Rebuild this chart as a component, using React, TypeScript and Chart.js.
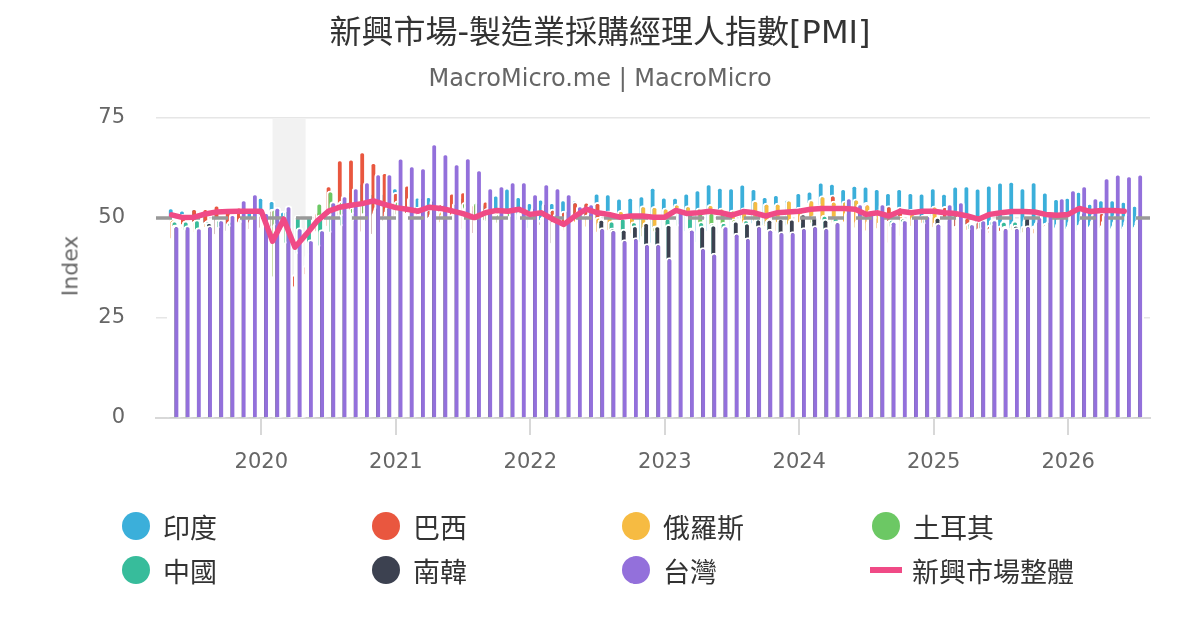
import { useEffect, useRef } from 'react';
import { Chart, registerables } from 'chart.js';

Chart.register(...registerables);

// monthly categories, May 2019 - Jul 2026
const months = [
  '2019-05', '2019-06', '2019-07', '2019-08', '2019-09', '2019-10', '2019-11', '2019-12',
  '2020-01', '2020-02', '2020-03', '2020-04', '2020-05', '2020-06', '2020-07', '2020-08', '2020-09', '2020-10', '2020-11', '2020-12',
  '2021-01', '2021-02', '2021-03', '2021-04', '2021-05', '2021-06', '2021-07', '2021-08', '2021-09', '2021-10', '2021-11', '2021-12',
  '2022-01', '2022-02', '2022-03', '2022-04', '2022-05', '2022-06', '2022-07', '2022-08', '2022-09', '2022-10', '2022-11', '2022-12',
  '2023-01', '2023-02', '2023-03', '2023-04', '2023-05', '2023-06', '2023-07', '2023-08', '2023-09', '2023-10', '2023-11', '2023-12',
  '2024-01', '2024-02', '2024-03', '2024-04', '2024-05', '2024-06', '2024-07', '2024-08', '2024-09', '2024-10', '2024-11', '2024-12',
  '2025-01', '2025-02', '2025-03', '2025-04', '2025-05', '2025-06', '2025-07', '2025-08', '2025-09', '2025-10', '2025-11', '2025-12',
  '2026-01', '2026-02', '2026-03', '2026-04', '2026-05', '2026-06', '2026-07',
];

const yearLabels = ['2020', '2021', '2022', '2023', '2024', '2025', '2026'];
const yTicks = [0, 25, 50, 75];
const recession = ['2020-02', '2020-04'];

const india = [
  52.7, 52.1, 52.5, 51.4, 51.4, 50.6, 51.2, 52.7,
  55.3, 54.5, 51.8, 27.4, 30.8, 47.2, 46.0, 52.0, 56.8, 58.9, 56.3, 56.4,
  57.7, 57.5, 55.4, 55.5, 50.8, 48.1, 55.3, 52.3, 53.7, 55.9, 57.6, 55.5,
  54.0, 54.9, 54.0, 54.7, 54.6, 53.9, 56.4, 56.2, 55.1, 55.3, 55.7, 57.8,
  55.4, 55.3, 56.4, 57.2, 58.7, 57.8, 57.7, 58.6, 57.5, 55.5, 56.0, 54.9,
  56.5, 56.9, 59.1, 58.8, 57.5, 58.3, 58.1, 57.5, 56.5, 57.5, 56.5, 56.4,
  57.7, 56.3, 58.1, 58.2, 57.6, 58.4, 59.1, 59.3, 57.7, 59.2, 56.6, 55.0,
  55.3, 56.8, 53.8, 54.7, 54.7, 54.3, 53.3,
];

const brazil = [
  50.2, 51.0, 52.5, 52.5, 53.4, 52.2, 52.9, 50.2,
  51.0, 52.3, 48.4, 36.0, 38.3, 51.6, 58.2, 64.7, 64.9, 66.7, 64.0, 61.5,
  56.5, 58.4, 52.8, 52.3, 53.7, 56.4, 56.7, 53.6, 54.4, 51.7, 49.8, 49.8,
  47.8, 49.6, 52.3, 51.8, 54.2, 54.1, 54.0, 51.9, 51.1, 50.8, 44.3, 44.2,
  47.5, 49.2, 47.0, 44.3, 47.1, 46.6, 47.8, 50.1, 49.0, 48.6, 49.4, 48.4,
  52.8, 54.1, 53.6, 55.9, 52.1, 52.5, 54.0, 50.4, 53.2, 52.9, 52.3, 50.4,
  50.7, 53.0, 51.8, 50.3, 49.4, 48.3, 48.2, 47.7, 46.5, 48.2, 48.8, 47.6,
  47.5, 47.2, 48.0, 51.5, 47.5, 47.5, 47.5,
];

const russia = [
  49.8, 48.6, 49.3, 49.1, 46.3, 47.2, 45.6, 47.5,
  47.9, 48.2, 47.5, 31.3, 36.2, 47.0, 48.4, 51.1, 48.9, 46.9, 46.3, 49.7,
  50.9, 51.5, 51.1, 50.4, 51.9, 49.2, 47.5, 46.5, 49.8, 51.6, 51.7, 51.6,
  51.8, 48.6, 44.1, 48.2, 50.8, 50.9, 50.3, 51.7, 52.0, 50.7, 53.2, 53.0,
  52.6, 53.6, 53.2, 52.6, 53.5, 52.6, 52.1, 52.7, 54.5, 53.8, 53.8, 54.6,
  52.4, 54.7, 55.7, 54.3, 54.4, 54.9, 53.6, 52.1, 49.5, 50.6, 51.3, 50.8,
  53.1, 50.2, 48.2, 48.7, 47.5, 47.5, 47.0, 48.7, 48.2, 48.0, 48.3, 48.1,
  48.0, 48.5, 48.0, 48.0, 48.0, 48.0, 48.0,
];

const turkey = [
  45.3, 47.9, 46.7, 48.0, 50.0, 49.0, 49.5, 49.5,
  51.3, 52.4, 48.1, 33.4, 40.9, 53.9, 56.9, 54.3, 52.8, 53.9, 51.4, 50.8,
  54.4, 51.7, 52.6, 50.4, 49.3, 51.3, 54.0, 54.1, 52.5, 51.2, 52.0, 52.1,
  50.5, 50.4, 49.4, 49.2, 49.2, 48.1, 46.9, 47.4, 46.9, 46.4, 45.7, 48.1,
  50.1, 50.1, 50.9, 51.5, 51.5, 51.5, 49.9, 49.0, 49.6, 48.4, 47.2, 47.4,
  49.2, 50.2, 50.0, 49.3, 49.3, 47.9, 47.2, 47.8, 44.3, 45.8, 48.3, 49.1,
  48.1, 48.3, 47.3, 47.3, 47.2, 46.7, 45.9, 47.3, 46.7, 46.5, 48.0, 48.9,
  48.5, 48.5, 48.5, 48.5, 48.5, 48.5, 48.5,
];

const china = [
  49.4, 49.4, 49.7, 49.5, 49.8, 49.3, 50.2, 50.2,
  50.0, 35.7, 52.0, 50.8, 50.6, 50.9, 51.1, 51.0, 51.5, 51.4, 52.1, 51.9,
  51.3, 50.6, 51.9, 51.1, 51.0, 50.9, 50.4, 50.1, 49.6, 49.2, 50.1, 50.3,
  50.1, 50.2, 49.5, 47.4, 49.6, 50.2, 49.0, 49.4, 50.1, 49.2, 48.0, 47.0,
  50.1, 52.6, 51.9, 49.2, 48.8, 49.0, 49.3, 49.7, 50.2, 49.5, 49.4, 49.0,
  49.2, 49.1, 50.8, 50.4, 49.5, 49.5, 49.4, 49.1, 49.8, 50.1, 50.3, 50.1,
  49.1, 50.2, 50.5, 49.0, 49.5, 49.7, 49.3, 49.4, 49.8, 49.0, 49.2, 50.1,
  49.5, 49.5, 49.5, 49.5, 49.5, 49.5, 49.5,
];

const korea = [
  48.4, 47.5, 47.3, 49.0, 48.0, 48.4, 49.4, 50.1,
  49.8, 48.7, 44.2, 41.6, 41.3, 43.4, 46.9, 48.5, 49.8, 51.2, 52.9, 52.9,
  53.2, 55.3, 55.3, 54.6, 53.7, 53.9, 53.0, 51.2, 52.4, 50.2, 50.9, 51.9,
  52.8, 53.8, 51.2, 52.1, 51.8, 51.3, 49.8, 47.6, 47.3, 48.2, 49.0, 48.2,
  48.5, 48.5, 47.6, 48.1, 48.4, 47.8, 49.4, 48.9, 49.9, 49.8, 50.0, 49.9,
  51.2, 50.7, 49.8, 49.4, 51.6, 52.0, 51.4, 51.9, 48.3, 48.3, 50.6, 49.0,
  50.3, 49.9, 49.1, 47.5, 47.7, 48.7, 48.0, 48.3, 50.7, 49.4, 49.4, 50.1,
  51.0, 51.5, 51.0, 51.0, 51.0, 51.0, 51.0,
];

const taiwan = [
  48.2, 48.2, 47.7, 48.2, 49.7, 51.0, 54.7, 56.2,
  51.5, 52.8, 53.2, 47.7, 44.7, 47.2, 54.2, 55.7, 57.7, 59.2, 61.2, 61.2,
  65.1, 63.2, 62.7, 68.7, 66.2, 63.7, 65.2, 62.2, 57.7, 58.2, 59.2, 59.2,
  56.2, 58.7, 57.7, 56.2, 53.2, 53.7, 47.7, 47.2, 44.7, 45.2, 43.7, 43.7,
  40.2, 52.5, 47.3, 42.7, 41.3, 48.2, 46.3, 45.2, 48.2, 47.3, 46.7, 46.7,
  47.7, 48.2, 47.7, 49.2, 55.2, 53.7, 52.2, 53.7, 49.3, 49.7, 50.4, 50.8,
  48.8, 53.7, 54.2, 48.7, 49.7, 49.7, 47.7, 47.7, 48.2, 50.5, 51.0, 55.2,
  57.2, 58.2, 55.2, 60.2, 61.1, 60.7, 61.1,
];

const emTotal = [
  50.8, 50.1, 50.2, 51.0, 51.5, 51.6, 51.7, 51.7,
  51.7, 44.2, 49.7, 42.7, 45.9, 49.3, 51.7, 52.7, 53.2, 53.6, 54.3, 53.4,
  52.6, 52.2, 51.7, 52.7, 52.4, 51.8, 51.1, 50.1, 51.3, 51.9, 51.7, 52.2,
  50.9, 51.3, 49.7, 48.4, 50.5, 52.2, 51.3, 50.9, 50.2, 50.5, 50.5, 50.2,
  50.2, 51.9, 51.1, 51.3, 51.7, 51.3, 50.7, 51.6, 51.3, 50.5, 51.3, 51.5,
  51.7, 52.2, 52.4, 52.4, 52.4, 52.2, 50.9, 51.3, 50.5, 51.7, 51.3, 51.7,
  51.7, 51.3, 51.1, 50.5, 49.7, 50.9, 51.3, 51.6, 51.6, 51.5, 50.9, 50.7,
  50.9, 52.4, 51.6, 51.9, 51.9, 51.7, null,
];

const series = [
  { label: '印度', color: '#3BAFDA', data: india },
  { label: '巴西', color: '#E9573F', data: brazil },
  { label: '俄羅斯', color: '#F6BB42', data: russia },
  { label: '土耳其', color: '#6CC864', data: turkey },
  { label: '中國', color: '#37BC9B', data: china },
  { label: '南韓', color: '#3C4150', data: korea },
  { label: '台灣', color: '#9370DB', data: taiwan },
];
const totalLabel = '新興市場整體';
const totalColor = '#F04A86';

const FONT = '"DejaVu Sans", "Noto Sans CJK TC", sans-serif';
const BAR_SHIFT = 0.17; // bars sit a little after the month start
const X_MIN = -9.4;
const X_MAX = 79.3;

// months since Jan 2020
const toIndex = (s: string) => (Number(s.slice(0, 4)) - 2020) * 12 + Number(s.slice(5, 7)) - 1;

const layers = {
  id: 'layers',
  beforeDatasetsDraw(chart: any) {
    const { ctx, chartArea: a, scales } = chart;
    const x = scales.x;
    const y = scales.y;
    ctx.save();
    ctx.beginPath();
    ctx.rect(a.left, a.top, a.right - a.left, a.bottom - a.top);
    ctx.clip();

    const b0 = x.getPixelForValue(toIndex(recession[0]));
    const b1 = x.getPixelForValue(toIndex(recession[1]) + 0.95);
    ctx.fillStyle = '#f2f2f2';
    ctx.fillRect(b0, a.top, b1 - b0, a.bottom - a.top);

    const metas = chart.getSortedVisibleDatasetMetas();
    // first country at the back, Taiwan in front
    metas.filter((m: any) => m.type === 'bar').forEach((m: any) => m.controller.draw());

    const y50 = y.getPixelForValue(50);
    ctx.strokeStyle = '#999999';
    ctx.lineWidth = 3.5;
    ctx.setLineDash([16, 12]);
    ctx.beginPath();
    ctx.moveTo(a.left, y50);
    ctx.lineTo(a.right, y50);
    ctx.stroke();
    ctx.setLineDash([]);

    metas.filter((m: any) => m.type === 'line').forEach((m: any) => m.controller.draw());
    ctx.restore();
    return false;
  },
};

export default function App() {
  const chartRef = useRef<HTMLCanvasElement>(null);
  const chartInstance = useRef<Chart | null>(null);

  useEffect(() => {
    if (!chartRef.current) return;
    if (chartInstance.current) chartInstance.current.destroy();
    const ctx = chartRef.current.getContext('2d');
    if (!ctx) return;

    const barSets = series.map(s => ({
      type: 'bar' as const,
      label: s.label,
      data: months.map((m, i) => ({ x: toIndex(m) + BAR_SHIFT, y: s.data[i] })),
      backgroundColor: s.color,
      borderColor: '#ffffff',
      borderWidth: 2,
      borderRadius: 3.5,
      borderSkipped: 'start' as const,
      inflateAmount: 0,
      categoryPercentage: 0.594,
      barPercentage: 8.2,
    }));

    const lineSet = {
      type: 'line' as const,
      label: totalLabel,
      data: months.map((m, i) => ({ x: toIndex(m), y: emTotal[i] })),
      borderColor: totalColor,
      borderWidth: 5.5,
      borderJoinStyle: 'round' as const,
      borderCapStyle: 'round' as const,
      pointRadius: 0,
      tension: 0,
    };

    chartInstance.current = new Chart(ctx, {
      type: 'bar',
      data: { datasets: [...barSets, lineSet] as any },
      options: {
        animation: false,
        responsive: true,
        maintainAspectRatio: false,
        layout: { padding: { top: 118, right: 50, bottom: 152, left: 0 } },
        plugins: {
          legend: { display: false },
          tooltip: { enabled: false },
        },
        scales: {
          x: {
            type: 'linear',
            min: X_MIN,
            max: X_MAX,
            offset: false,
            afterBuildTicks: (scale: any) => {
              scale.ticks = yearLabels.map(l => ({ value: toIndex(l + '-01') }));
            },
            afterFit: (scale: any) => { scale.height = 60; },
            grid: { drawOnChartArea: false, offset: false, tickLength: 17, color: '#d8d8d8', lineWidth: 2 },
            border: { color: '#d8d8d8', width: 2 },
            ticks: {
              autoSkip: false,
              maxRotation: 0,
              padding: 15,
              color: '#666666',
              font: { family: FONT, size: 21 },
              callback: (v: any) => String(2020 + Math.round(Number(v) / 12)),
            },
          },
          y: {
            min: yTicks[0],
            max: yTicks[yTicks.length - 1],
            afterBuildTicks: (scale: any) => {
              scale.ticks = yTicks.map(v => ({ value: v }));
            },
            afterFit: (scale: any) => { scale.width = 156; },
            grid: { color: '#e6e6e6', lineWidth: 1.5, drawTicks: false },
            border: { display: false },
            ticks: {
              padding: 31,
              color: '#666666',
              font: { family: FONT, size: 21 },
            },
          },
        },
      },
      plugins: [layers],
    });

    return () => {
      if (chartInstance.current) {
        chartInstance.current.destroy();
        chartInstance.current = null;
      }
    };
  }, []);

  const legendItems = [
    ...series.map(s => ({ label: s.label, color: s.color, line: false })),
    { label: totalLabel, color: totalColor, line: true },
  ];
  const colX = [122, 372, 622, 872];
  const rowY = [526, 570];
  const order = ['印度', '巴西', '俄羅斯', '土耳其', '中國', '南韓', '台灣', totalLabel];

  return (
    <div style={{ position: 'absolute', left: 0, top: 0, width: 1200, height: 630, background: '#fff', fontFamily: FONT, overflow: 'hidden' }}>
      <canvas ref={chartRef}></canvas>
      <div style={{ position: 'absolute', left: 0, top: 12, width: 1200, textAlign: 'center', fontSize: 32, lineHeight: '40px', color: '#333' }}>
        新興市場-製造業採購經理人指數[PMI]
      </div>
      <div style={{ position: 'absolute', left: 0, top: 62, width: 1200, textAlign: 'center', fontSize: 24, lineHeight: '32px', color: '#666' }}>
        MacroMicro.me | MacroMicro
      </div>
      <div style={{ position: 'absolute', left: 70, top: 266, transform: 'translate(-50%, -50%) rotate(-90deg)', fontSize: 22, color: '#666', whiteSpace: 'nowrap' }}>
        Index
      </div>
      {order.map((name, i) => {
        const item = legendItems.find(it => it.label === name)!;
        return (
          <div key={name} style={{ position: 'absolute', left: colX[i % 4], top: rowY[Math.floor(i / 4)] - 20, height: 40, display: 'flex', alignItems: 'center', fontSize: 27, color: '#333', whiteSpace: 'nowrap' }}>
            {item.line ? (
              <span style={{ display: 'inline-block', width: 32, height: 6, background: item.color, marginLeft: -2, marginRight: 10 }}></span>
            ) : (
              <span style={{ display: 'inline-block', width: 28, height: 28, borderRadius: 14, background: item.color, marginRight: 13 }}></span>
            )}
            <span>{item.label}</span>
          </div>
        );
      })}
    </div>
  );
}
